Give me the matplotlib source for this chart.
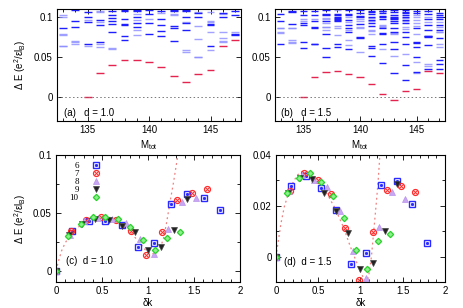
import matplotlib.pyplot as plt
from matplotlib.ticker import MultipleLocator, FixedLocator

plt.rcParams['font.family'] = 'Liberation Sans'
plt.rcParams['mathtext.fontset'] = 'custom'
plt.rcParams['mathtext.rm'] = 'Liberation Sans'
plt.rcParams['mathtext.it'] = 'Liberation Sans:italic'
plt.rcParams['font.size'] = 7

M_tot = list(range(133, 148))

# (a) d = 1.0 : lowest level per M (red), other levels (dark / pale blue)
a_low = [None, None, 0.0, 0.0298, 0.040, 0.0463, 0.0459, 0.0438, 0.038,
         0.0268, 0.0182, 0.0285, 0.0335, 0.064, 0.0706]
a_dark = [[0.0856],
          [0.1087, 0.0947, 0.0872],
          [0.106, 0.0996, 0.0938, 0.0665],
          [0.0963, 0.0905, 0.0682],
          [0.108, 0.1029, 0.0988, 0.0955, 0.0913, 0.0806],
          [0.1087, 0.1071, 0.098, 0.0913, 0.0905, 0.0757, 0.0707],
          [0.1087, 0.1071, 0.1005, 0.0922, 0.088],
          [0.1087, 0.1037, 0.093, 0.0781],
          [0.1079, 0.098, 0.0905, 0.0823, 0.0756],
          [0.1087, 0.1071, 0.0888, 0.0856, 0.0698],
          [0.1087, 0.1071, 0.1005, 0.0922, 0.0831],
          [0.1046, 0.1005],
          [0.0913, 0.0897, 0.0632],
          [0.1054, 0.1],
          [0.1079, 0.102, 0.0781, 0.0773]]
a_pale = [[0.102, 0.0996, 0.0787, 0.0779, 0.0639, 0.0632],
          [0.0695, 0.0682, 0.0657],
          [0.0963, 0.0632],
          [0.1079, 0.1062, 0.094, 0.0657, 0.0624],
          [0.0616, 0.060],
          [],
          [0.1037, 0.0963, 0.0839, 0.0773],
          [0.0971],
          [0.1046],
          [0.1037, 0.102],
          [0.0938, 0.0582, 0.0566],
          [0.1062, 0.0888, 0.0723, 0.0504, 0.0496],
          [0.1062, 0.0955, 0.0938, 0.0806, 0.0583],
          [0.1037, 0.0814, 0.0731, 0.0698, 0.0682],
          [0.0806]]

# (b) d = 1.5
b_low = [None, None, 0.0, 0.0252, 0.031, 0.0326, 0.0293, 0.0244, 0.0161,
         0.0037, -0.0037, 0.007, 0.0095, 0.0322, 0.0297]
b_dark = [[0.1037, 0.0955, 0.0657],
          [0.1071, 0.1062, 0.0914],
          [0.1071, 0.103, 0.093, 0.0905, 0.069, 0.0616],
          [0.1079, 0.102, 0.0947, 0.0876, 0.0868, 0.0665, 0.0657],
          [0.1087, 0.1037, 0.102, 0.0955, 0.0781, 0.0608, 0.05],
          [0.1037, 0.102, 0.1005, 0.0988, 0.098, 0.0963, 0.0955, 0.0665, 0.0624],
          [0.1087, 0.1037, 0.1021, 0.0963, 0.0898, 0.0864, 0.0806, 0.060],
          [0.1087, 0.1054, 0.1013, 0.0996, 0.0914, 0.0748, 0.0731],
          [0.1079, 0.1062, 0.1037, 0.1005, 0.0963, 0.093, 0.0888, 0.0632,
           0.0616, 0.0508],
          [0.1079, 0.1071, 0.1046, 0.1013, 0.0996, 0.098, 0.0864, 0.0794,
           0.0785, 0.0665, 0.0426],
          [0.1087, 0.1062, 0.1029, 0.1005, 0.0988, 0.0971, 0.0947, 0.093,
           0.0856, 0.0814, 0.0682, 0.06, 0.0302],
          [0.1087, 0.1062, 0.1046, 0.1021, 0.0996, 0.0963, 0.093, 0.0806,
           0.0748, 0.0665, 0.04, 0.0218],
          [0.1071, 0.1054, 0.0856, 0.069, 0.0673, 0.0624, 0.05, 0.031],
          [0.1071, 0.1037, 0.0971, 0.0905, 0.0831, 0.0765, 0.0757, 0.0748,
           0.0649, 0.035],
          [0.1046, 0.102, 0.0996, 0.0971, 0.0905, 0.0839, 0.0731, 0.0458,
           0.0409, 0.035]]
b_pale = [[0.0864, 0.0856, 0.0806, 0.0798],
          [0.0864, 0.0856, 0.0707, 0.069, 0.0674],
          [0.0971, 0.0955],
          [0.0971],
          [0.0988, 0.098, 0.0922, 0.088, 0.0872, 0.0831],
          [0.1087, 0.0888, 0.0856, 0.0773],
          [0.0996, 0.094, 0.0839, 0.0715, 0.0649],
          [0.098, 0.0955, 0.0872, 0.0864, 0.0566],
          [0.0988, 0.0947, 0.0831, 0.0823, 0.0781],
          [0.0897, 0.0881, 0.0872, 0.06],
          [0.0798, 0.0785, 0.0517],
          [0.0988, 0.0955, 0.088, 0.0847, 0.0533],
          [0.1029, 0.0996, 0.0963, 0.093, 0.0888, 0.0781, 0.0442, 0.0298],
          [0.1004, 0.0938, 0.041, 0.0393],
          [0.0938, 0.0872, 0.0814, 0.0806, 0.0665, 0.0624]]

# (c), (d): dispersion, momentum values per series
labels = ['6', '7', '8', '9', '10']
k6 = [0, 0.178, 0.357, 0.535, 0.714, 0.892, 1.07, 1.249, 1.427, 1.606, 1.784]
k7 = [0, 0.164, 0.328, 0.492, 0.656, 0.82, 0.984, 1.148, 1.312, 1.476, 1.64]
k8 = [0, 0.152, 0.304, 0.456, 0.608, 0.761, 0.913, 1.065, 1.217, 1.37, 1.522]
k9 = [0, 0.143, 0.286, 0.429, 0.571, 0.714, 0.857, 1.0, 1.143, 1.286, 1.429]
k10 = [0, 0.134, 0.269, 0.404, 0.538, 0.673, 0.807, 0.942, 1.076, 1.211, 1.345]

c6 = [0, 0.0339, 0.0431, 0.0431, 0.0397, 0.0204, 0.0239, 0.0575, 0.0658, 0.0629, 0.0523]
c7 = [0, 0.034, 0.044, 0.0463, 0.044, 0.0342, 0.0135, 0.0336, 0.061, 0.0675, 0.0704]
c8 = [0, 0.031, 0.0425, 0.0455, 0.0445, 0.041, 0.027, 0.0144, 0.0362, 0.0592, 0.0624]
c9 = [0, 0.0305, 0.0405, 0.0443, 0.0434, 0.0388, 0.033, 0.0181, 0.0201, 0.0348, 0.062]
c10 = [0, 0.0302, 0.0405, 0.046, 0.0465, 0.0445, 0.038, 0.0263, 0.0175, 0.0282, 0.0336]

d6 = [0, 0.0279, 0.0319, 0.0269, 0.0184, -0.0027, 0.0015, 0.0283, 0.0298, 0.0208, 0.0052]
d7 = [0, 0.026, 0.033, 0.030, 0.0248, 0.0114, -0.0093, 0.0097, 0.0263, 0.0279, 0.0253]
d8 = [0, 0.026, 0.032, 0.030, 0.0275, 0.018, 0.0022, -0.0084, 0.0116, 0.0253, 0.0226]
d9 = [0, 0.025, 0.031, 0.0306, 0.025, 0.018, 0.0094, -0.005, -0.0024, 0.010, 0.0286]
d10 = [0, 0.025, 0.0308, 0.0327, 0.0292, 0.024, 0.0154, 0.0028, -0.0047, 0.0063, 0.0089]

# dotted guide curves
c_line_k = [0, 0.03, 0.06, 0.1, 0.15, 0.2, 0.3, 0.4, 0.5, 0.6, 0.7, 0.8, 0.9,
            0.97, 1.03, 1.08, 1.13, 1.167, 1.2, 1.24, 1.28, 1.32, 1.326]
c_line_E = [0, 0.009, 0.017, 0.024, 0.030, 0.035, 0.041, 0.0445, 0.0455,
            0.0445, 0.040, 0.034, 0.025, 0.018, 0.0145, 0.0148, 0.019, 0.027,
            0.040, 0.059, 0.077, 0.097, 0.1]
d_line_k = [0, 0.03, 0.06, 0.1, 0.15, 0.2, 0.25, 0.3, 0.35, 0.4, 0.5, 0.6,
            0.7, 0.8, 0.88, 0.94, 1.0, 1.05, 1.08, 1.1, 1.13, 1.16, 1.19,
            1.21, 1.23]
d_line_E = [0, 0.0066, 0.0132, 0.0198, 0.025, 0.029, 0.032, 0.0333, 0.0335,
            0.033, 0.030, 0.025, 0.019, 0.0115, 0.004, -0.001, -0.006, -0.0092,
            -0.0095, -0.007, 0.0, 0.011, 0.022, 0.030, 0.040]

BLUE = '#1e1eff'
PALE = '#8c8cff'
RED = '#e4234f'
HALF = 0.32


def draw_spectrum(ax, low, dark, pale, tag):
    for m, lo, dk, pl in zip(M_tot, low, dark, pale):
        if pl:
            ax.hlines(pl, m - HALF, m + HALF, color=PALE, lw=1.0, alpha=0.8)
        if dk:
            ax.hlines(dk, m - HALF, m + HALF, color=BLUE, lw=1.0)
        if lo is not None:
            ax.hlines(lo, m - HALF, m + HALF, color=RED, lw=1.0)
    ax.axhline(0, color='#777777', ls=(0, (1.5, 2.5)), lw=0.7)
    ax.set_xlim(132.5, 147.5)
    ax.set_ylim(-0.03, 0.11)
    ax.xaxis.set_major_locator(FixedLocator([135, 140, 145]))
    ax.xaxis.set_minor_locator(MultipleLocator(1))
    ax.set_yticks([0, 0.05, 0.1])
    ax.set_yticklabels(['0', '0.05', '0.1'])
    ax.set_xlabel('M$_\\mathrm{tot}$', labelpad=2)
    ax.text(0.038, 0.075, tag, transform=ax.transAxes, va='center')


def style(ax):
    ax.tick_params(which='both', direction='in', top=True, right=True,
                   width=0.6, labelsize=7, pad=3)
    ax.tick_params(which='major', length=3.5)
    ax.tick_params(which='minor', length=2)
    for s in ax.spines.values():
        s.set_linewidth(0.8)


def draw_points(ax, series):
    handles = []
    ks = [k6, k7, k8, k9, k10]
    for lab, k, E in zip(labels, ks, series):
        if lab == '6':
            h1, = ax.plot(k, E, 's', ms=4.4, mfc='none', mec='#2a2aff', mew=1.0, ls='none')
            h2, = ax.plot(k, E, 's', ms=1.1, mfc='#2a2aff', mec='#2a2aff', ls='none')
            handles.append((h1, h2))
        elif lab == '7':
            h1, = ax.plot(k, E, 'o', ms=4.3, mfc='none', mec='#ff2a2a', mew=0.9, ls='none')
            h2, = ax.plot(k, E, 'x', ms=2.5, mec='#ff2a2a', mew=0.7, ls='none')
            handles.append((h1, h2))
        elif lab == '8':
            h1, = ax.plot(k, E, '^', ms=4.6, mfc='#c9a6f2', mec='#b993ea', mew=0.5, ls='none')
            handles.append(h1)
        elif lab == '9':
            h1, = ax.plot(k, E, 'v', ms=4.6, mfc='#222222', mec='#444444', mew=0.5, ls='none')
            handles.append(h1)
        else:
            h1, = ax.plot(k, E, 'D', ms=3.2, mfc='#8cf08c', mec='#2ad02a', mew=0.9, ls='none')
            handles.append(h1)
    return handles


fig = plt.figure(figsize=(4.63, 3.08), dpi=100)

ax_a = fig.add_axes([0.123, 0.607, 0.398, 0.364])
ax_b = fig.add_axes([0.594, 0.607, 0.367, 0.364])
ax_c = fig.add_axes([0.121, 0.084, 0.397, 0.413])
ax_d = fig.add_axes([0.596, 0.084, 0.365, 0.413])

draw_spectrum(ax_a, a_low, a_dark, a_pale, '(a)   d = 1.0')
draw_spectrum(ax_b, b_low, b_dark, b_pale, '(b)   d = 1.5')
ax_a.set_ylabel('Δ E (e$^2$/εl$_\\mathrm{B}$)', labelpad=4)

ax_c.plot(c_line_k, c_line_E, color='#f08080', ls=(0, (1.5, 2.5)), lw=0.9)
hc = draw_points(ax_c, [c6, c7, c8, c9, c10])
ax_c.set_xlim(0, 2)
ax_c.set_ylim(-0.01, 0.1)
ax_c.set_yticks([0, 0.05, 0.1])
ax_c.set_yticklabels(['0', '0.05', '0.1'])
ax_c.yaxis.set_minor_locator(MultipleLocator(0.025))
ax_c.set_ylabel('Δ E (e$^2$/εl$_\\mathrm{B}$)', labelpad=4)
ax_c.text(0.053, 0.165, '(c)  d = 1.0', transform=ax_c.transAxes, va='center')
leg = ax_c.legend(hc, labels, loc='upper left', bbox_to_anchor=(0.04, 0.995),
                  frameon=False, markerfirst=False, handlelength=1.2,
                  handletextpad=1.3, labelspacing=-0.05, borderpad=0.2,
                  prop={'family': 'Liberation Serif', 'size': 6.5})

ax_d.plot(d_line_k, d_line_E, color='#f08080', ls=(0, (1.5, 2.5)), lw=0.9)
draw_points(ax_d, [d6, d7, d8, d9, d10])
ax_d.set_xlim(0, 2)
ax_d.set_ylim(-0.01, 0.04)
ax_d.set_yticks([0, 0.02, 0.04])
ax_d.set_yticklabels(['0', '0.02', '0.04'])
ax_d.yaxis.set_minor_locator(MultipleLocator(0.01))
ax_d.text(0.047, 0.155, '(d)  d = 1.5', transform=ax_d.transAxes, va='center')

for ax in (ax_c, ax_d):
    ax.set_xticks([0, 0.5, 1, 1.5, 2])
    ax.set_xticklabels(['0', '0.5', '1', '1.5', '2'])
    ax.xaxis.set_minor_locator(MultipleLocator(0.1))
    ax.set_xlabel('δk', labelpad=1)

for ax in (ax_a, ax_b, ax_c, ax_d):
    style(ax)

fig.savefig('out.png', dpi=100)
